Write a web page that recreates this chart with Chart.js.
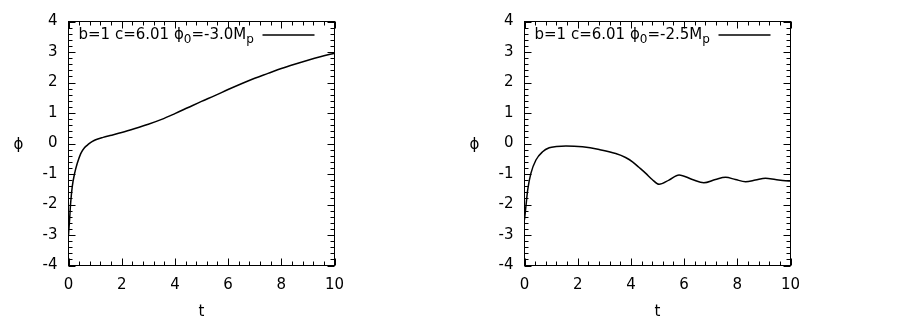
<!DOCTYPE html>
<html>
<head>
<meta charset="utf-8">
<script src="https://cdn.jsdelivr.net/npm/chart.js@4/dist/chart.umd.min.js"></script>
<style>
    html, body { margin: 0; padding: 0; background: #fff; }
    .row { display: flex; width: 912px; height: 319px; }
    .panel { width: 456px; height: 319px; }
</style>
</head>
<body>
<div class="row">
    <div class="panel"><canvas id="chart-left" width="456" height="319"></canvas></div>
    <div class="panel"><canvas id="chart-right" width="456" height="319"></canvas></div>
</div>
<script>
// Left panel: phi0 = -3.0 Mp
const tLeft = [0, 0.02, 0.04, 0.08, 0.14, 0.23, 0.33, 0.46, 0.6, 0.7, 0.8, 0.9, 1.0, 1.1, 1.3, 1.56, 2.0, 2.5,
    3.0, 3.5, 4.0, 4.5, 5.0, 5.5, 6.0, 6.5, 7.0, 7.5, 8.0, 8.5, 9.0, 9.5, 10];
const phiLeft = [-3.0, -2.75, -2.5, -1.96, -1.42, -0.98, -0.65, -0.33, -0.14, -0.06, 0.01, 0.07, 0.115, 0.15, 0.2, 0.26, 0.36, 0.49,
    0.63, 0.79, 0.98, 1.18, 1.38, 1.57, 1.77, 1.96, 2.14, 2.3, 2.46, 2.6, 2.73, 2.85, 2.96];

// Right panel: phi0 = -2.5 Mp
const tRight = [0, 0.03, 0.06, 0.12, 0.24, 0.43, 0.68, 0.93, 1.2, 1.56, 2.18, 2.81, 3.43, 3.8, 4.06, 4.3,
    4.56, 4.8, 5.06, 5.43, 5.81, 6.31, 6.74, 7.18, 7.56, 7.93, 8.31, 8.68, 9.06, 9.43, 9.81, 10];
const phiRight = [-2.5, -2.25, -2.0, -1.52, -0.98, -0.54, -0.27, -0.14, -0.1, -0.08, -0.11, -0.2, -0.33, -0.46, -0.6, -0.78,
    -0.98, -1.18, -1.34, -1.2, -1.03, -1.18, -1.29, -1.18, -1.11, -1.18, -1.25, -1.2, -1.14, -1.18, -1.22, -1.23];

// Legend labels, split into normal / subscript pieces
const legendLeft = [['b=1 c=6.01 ϕ', false], ['0', true], ['=-3.0M', false], ['p', true]];
const legendRight = [['b=1 c=6.01 ϕ', false], ['0', true], ['=-2.5M', false], ['p', true]];

const xTitle = 't';
const yTitle = 'ϕ';
const xRange = [0, 10];
const yRange = [-4, 4];

const FONT = '"DejaVu Sans", sans-serif';

// gnuplot-like frame: inward ticks on all four sides, axis titles and key
const gnuplotFrame = {
    id: 'gnuplotFrame',
    afterDraw(chart) {
        const ctx = chart.ctx;
        const area = chart.chartArea;
        const xs = chart.scales.x;
        const ys = chart.scales.y;

        ctx.save();
        ctx.strokeStyle = '#000';
        ctx.lineWidth = 1;
        ctx.strokeRect(area.left, area.top, area.right - area.left, area.bottom - area.top);

        ctx.beginPath();
        // x ticks: major every 2, minor every 0.4
        for (let i = 0; i <= 25; i++) {
            const v = i * 0.4;
            const len = (i % 5 === 0) ? 7 : 4;
            const px = Math.round(xs.getPixelForValue(v)) + 0.5;
            ctx.moveTo(px, area.bottom);
            ctx.lineTo(px, area.bottom - len);
            ctx.moveTo(px, area.top);
            ctx.lineTo(px, area.top + len);
        }
        // y ticks: major every 1, minor every 0.2
        for (let i = 0; i <= 40; i++) {
            const v = -4 + i * 0.2;
            const len = (i % 5 === 0) ? 7 : 4;
            const py = Math.round(ys.getPixelForValue(v)) + 0.5;
            ctx.moveTo(area.left, py);
            ctx.lineTo(area.left + len, py);
            ctx.moveTo(area.right, py);
            ctx.lineTo(area.right - len, py);
        }
        ctx.stroke();

        // axis titles
        ctx.fillStyle = '#000';
        ctx.font = '15px ' + FONT;
        ctx.textAlign = 'center';
        ctx.textBaseline = 'alphabetic';
        ctx.fillText(xTitle, (area.left + area.right) / 2, 316);
        ctx.fillText(yTitle, 18.5, (area.top + area.bottom) / 2 + 5);

        // key text with subscripts
        const parts = chart.options.plugins.gnuplotFrame.legend;
        let x = area.left + 10;
        const base = 38.5;
        ctx.textAlign = 'left';
        parts.forEach(([txt, sub]) => {
            ctx.font = (sub ? '12px ' : '15px ') + FONT;
            ctx.fillText(txt, x, sub ? base + 4 : base);
            x += ctx.measureText(txt).width;
        });

        // key sample line
        ctx.beginPath();
        ctx.lineWidth = 1.5;
        ctx.moveTo(area.right - 72, 35);
        ctx.lineTo(area.right - 20, 35);
        ctx.stroke();
        ctx.restore();
    }
};

function makeChart(canvasId, tValues, phiValues, legendParts) {
    const points = tValues.map((t, i) => ({ x: t, y: phiValues[i] }));

    return new Chart(document.getElementById(canvasId), {
        type: 'line',
        data: {
            datasets: [{
                data: points,
                borderColor: '#000',
                borderWidth: 1.5,
                pointRadius: 0,
                fill: false,
                cubicInterpolationMode: 'monotone'
            }]
        },
        options: {
            responsive: false,
            animation: false,
            layout: {
                padding: { top: 21.5, right: 121.5, bottom: 0, left: 0 }
            },
            plugins: {
                legend: { display: false },
                tooltip: { enabled: false },
                gnuplotFrame: { legend: legendParts }
            },
            scales: {
                x: {
                    type: 'linear',
                    min: xRange[0],
                    max: xRange[1],
                    ticks: {
                        stepSize: 2,
                        color: '#000',
                        padding: 11,
                        maxRotation: 0,
                        font: { family: FONT, size: 15 }
                    },
                    grid: { display: false, drawTicks: false },
                    border: { display: false },
                    afterFit: function(scale) { scale.height = 53.5; }
                },
                y: {
                    type: 'linear',
                    min: yRange[0],
                    max: yRange[1],
                    ticks: {
                        stepSize: 1,
                        color: '#000',
                        padding: 11,
                        font: { family: FONT, size: 15 }
                    },
                    grid: { display: false, drawTicks: false },
                    border: { display: false },
                    afterFit: function(scale) { scale.width = 68.5; }
                }
            }
        },
        plugins: [gnuplotFrame]
    });
}

makeChart('chart-left', tLeft, phiLeft, legendLeft);
makeChart('chart-right', tRight, phiRight, legendRight);
</script>
</body>
</html>
